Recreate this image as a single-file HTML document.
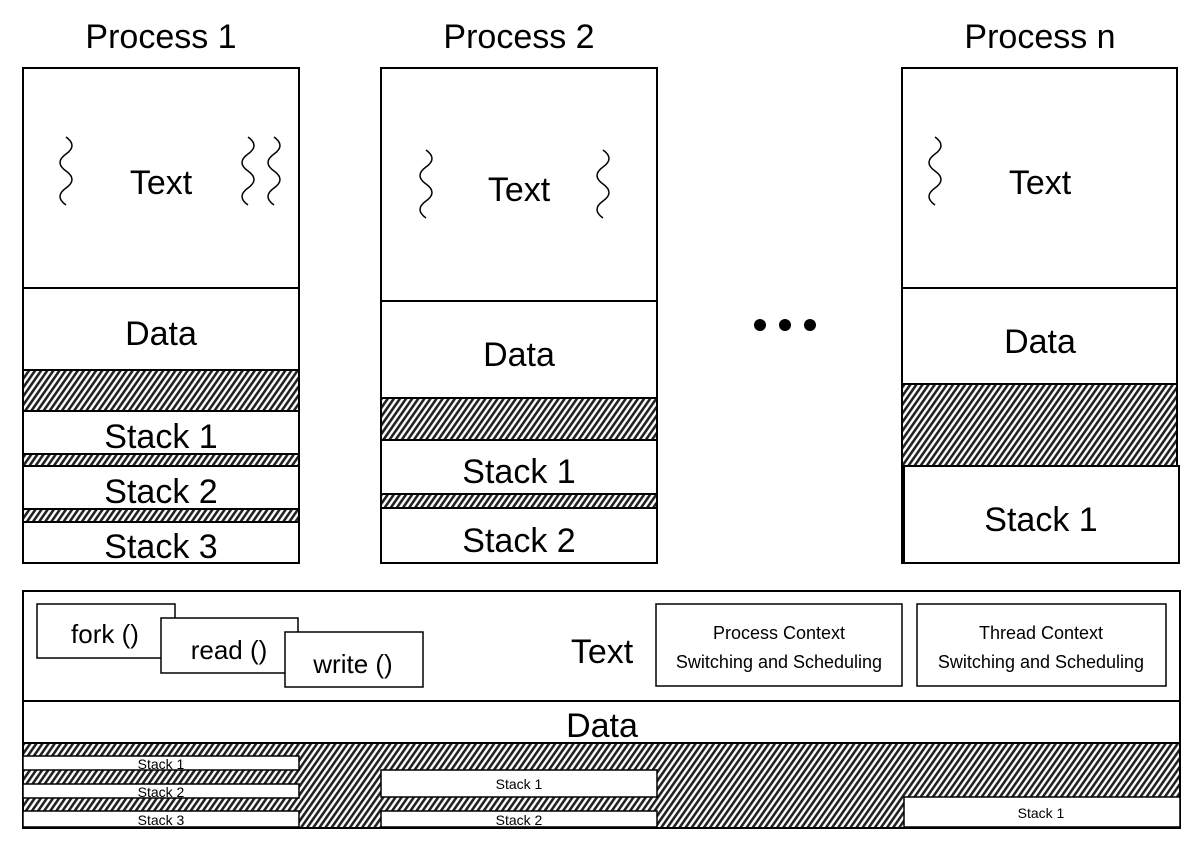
<!DOCTYPE html>
<html><head><meta charset="utf-8"><style>
html,body{margin:0;padding:0;background:#fff;}
svg text{font-family:"Liberation Sans","DejaVu Sans",sans-serif;fill:#000;}
</style></head><body>
<svg width="1199" height="844" viewBox="0 0 1199 844" xmlns="http://www.w3.org/2000/svg">
<defs>
<pattern id="h" width="5" height="5" patternUnits="userSpaceOnUse" patternTransform="rotate(35)">
<rect width="5" height="5" fill="#fff"/><rect width="2.6" height="5" fill="#222"/>
</pattern>
<path id="sq" d="M0,0 q12,8.5 0,17 t0,17 t0,17 t0,17" fill="none" stroke="#000" stroke-width="1.5"/>
</defs>
<g stroke="#000" stroke-width="2" fill="#fff">
<!-- Process 1 -->
<rect x="23" y="68" width="276" height="495"/>
<line x1="23" y1="288" x2="299" y2="288"/>
<rect x="23" y="370" width="276" height="41" fill="url(#h)"/>
<rect x="23" y="454" width="276" height="12" fill="url(#h)"/>
<rect x="23" y="509" width="276" height="13" fill="url(#h)"/>
<!-- Process 2 -->
<rect x="381" y="68" width="276" height="495"/>
<line x1="381" y1="301" x2="657" y2="301"/>
<rect x="381" y="398" width="276" height="42" fill="url(#h)"/>
<rect x="381" y="494" width="276" height="14" fill="url(#h)"/>
<!-- Process n -->
<rect x="902" y="68" width="275" height="495"/>
<line x1="902" y1="288" x2="1177" y2="288"/>
<rect x="902" y="384" width="275" height="82" fill="url(#h)"/>
<rect x="904" y="466" width="275" height="97"/>
<!-- Bottom -->
<rect x="23" y="591" width="1157" height="237"/>
<line x1="23" y1="701" x2="1180" y2="701"/>
<rect x="23" y="743" width="1157" height="85" fill="url(#h)"/>
<rect x="23" y="756" width="276" height="14" stroke-width="1.5"/>
<rect x="23" y="784" width="276" height="14" stroke-width="1.5"/>
<rect x="23" y="811" width="276" height="16" stroke-width="1.5"/>
<rect x="381" y="770" width="276" height="27" stroke-width="1.5"/>
<rect x="381" y="811" width="276" height="16" stroke-width="1.5"/>
<rect x="904" y="797" width="276" height="30" stroke-width="1.5"/>
<rect x="37" y="604" width="138" height="54" stroke-width="1.5"/>
<rect x="161" y="618" width="137" height="55" stroke-width="1.5"/>
<rect x="285" y="632" width="138" height="55" stroke-width="1.5"/>
<rect x="656" y="604" width="246" height="82" stroke-width="1.5"/>
<rect x="917" y="604" width="249" height="82" stroke-width="1.5"/>
</g>
<use href="#sq" x="66" y="137"/>
<use href="#sq" x="248" y="137"/>
<use href="#sq" x="274" y="137"/>
<use href="#sq" x="426" y="150"/>
<use href="#sq" x="603" y="150"/>
<use href="#sq" x="935" y="137"/>
<circle cx="760" cy="325" r="6"/><circle cx="785" cy="325" r="6"/><circle cx="810" cy="325" r="6"/>
<g font-size="34" text-anchor="middle">
<text x="161" y="48">Process 1</text>
<text x="519" y="48">Process 2</text>
<text x="1040" y="48">Process n</text>
<text x="161" y="194">Text</text>
<text x="519" y="201">Text</text>
<text x="1040" y="194">Text</text>
<text x="161" y="345">Data</text>
<text x="519" y="366">Data</text>
<text x="1040" y="353">Data</text>
<text x="161" y="448">Stack 1</text>
<text x="161" y="503">Stack 2</text>
<text x="161" y="558">Stack 3</text>
<text x="519" y="483">Stack 1</text>
<text x="519" y="552">Stack 2</text>
<text x="1041" y="531">Stack 1</text>
<text x="602" y="663">Text</text>
<text x="602" y="737">Data</text>
</g>
<g font-size="26" text-anchor="middle">
<text x="105" y="643">fork ()</text>
<text x="229" y="659">read ()</text>
<text x="353" y="673">write ()</text>
</g>
<g font-size="18" text-anchor="middle">
<text x="779" y="639">Process Context</text>
<text x="779" y="668">Switching and Scheduling</text>
<text x="1041" y="639">Thread Context</text>
<text x="1041" y="668">Switching and Scheduling</text>
</g>
<g font-size="14" text-anchor="middle">
<text x="161" y="769">Stack 1</text>
<text x="161" y="797">Stack 2</text>
<text x="161" y="825">Stack 3</text>
<text x="519" y="789">Stack 1</text>
<text x="519" y="825">Stack 2</text>
<text x="1041" y="818">Stack 1</text>
</g>
</svg>
</body></html>
